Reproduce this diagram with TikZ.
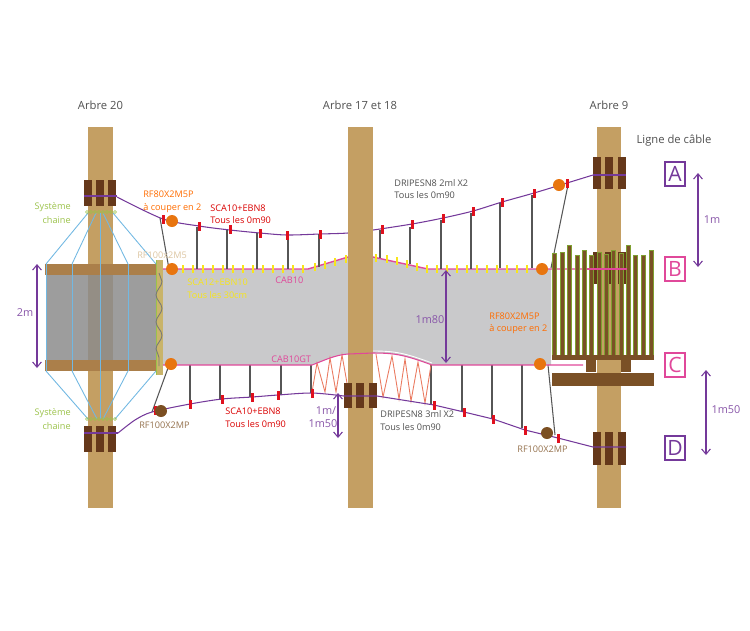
\documentclass[tikz,border=0pt]{standalone}
\usepackage{fontspec}
\setmainfont{Open Sans}
\usetikzlibrary{arrows.meta,decorations.pathmorphing}
\definecolor{treetan}{HTML}{C49F63}
\definecolor{clampbrown}{HTML}{65381A}
\definecolor{woodbrown}{HTML}{7A5026}
\definecolor{beamtan}{HTML}{AB7F4A}
\definecolor{netgray}{HTML}{C9C9CB}
\definecolor{cablepurple}{HTML}{74399A}
\definecolor{linepink}{HTML}{E0489A}
\definecolor{clipred}{HTML}{E0101E}
\definecolor{clipyellow}{HTML}{F7E51A}
\definecolor{ringorange}{HTML}{E8750F}
\definecolor{ringbrown}{HTML}{7B4F22}
\definecolor{chaingreen}{HTML}{9BC24A}
\definecolor{wireblue}{HTML}{72B8E2}
\definecolor{hangergray}{HTML}{565656}
\definecolor{textgray}{HTML}{505050}
\definecolor{zigred}{HTML}{EA7A60}
\definecolor{postyellow}{HTML}{C9B46A}
\definecolor{picketgreen}{HTML}{7FA030}
\begin{document}
\begin{tikzpicture}[
                    x=0.02cm, y=-0.02cm,
                    every node/.style={inner sep=0pt, font=\fontsize{5.2}{6}\selectfont},
                    tree/.style={fill=treetan},
                    clamp/.style={fill=clampbrown},
                    cable/.style={draw=cablepurple, line width=0.6pt},
                    hanger/.style={draw=hangergray, line width=0.6pt},
                    wire/.style={draw=wireblue, line width=0.5pt},
                    zigzag/.style={draw=zigred, line width=0.5pt},
                    pinkline/.style={draw=linepink, line width=0.8pt},
                    redclip/.style={fill=clipred, minimum width=0.06cm, minimum height=0.18cm},
                    yellowclip/.style={fill=clipyellow, minimum width=0.05cm, minimum height=0.15cm},
                    ring/.style={circle, fill=ringorange, minimum size=0.24cm},
                    brownring/.style={circle, fill=ringbrown, minimum size=0.24cm},
                    picket/.style={fill=woodbrown, draw=picketgreen, line width=0.5pt},
                    link/.style={circle, draw=chaingreen, line width=0.35pt, minimum size=0.06cm},
                    letterbox/.style={draw, line width=0.7pt, minimum width=0.4cm, minimum height=0.48cm, font=\fontsize{12}{14}\selectfont},
                    title/.style={text=textgray, font=\fontsize{6.4}{7}\selectfont},
                    dim/.style={cablepurple, line width=0.6pt, {Straight Barb[length=3pt,width=5pt]}-{Straight Barb[length=3pt,width=5pt]}},
                    dimtext/.style={text=cablepurple!85!white, font=\fontsize{6.2}{7}\selectfont},
                    orangetext/.style={text=orange!85!red, anchor=west},
                    redtext/.style={text=red!85!black, anchor=west},
                    graytext/.style={text=textgray, anchor=west},
                    browntext/.style={text=ringbrown!80!white, anchor=west},
                    greentext/.style={text=chaingreen, anchor=east},
                ]
\useasboundingbox (0,0) rectangle (750,630);
% trees
\fill[tree] (88,127) rectangle (113,508);
\fill[tree] (597,127) rectangle (621,508);
% left platform
\fill[black!45, opacity=0.85] (46,275) rectangle (157,360);
\fill[beamtan] (45,264) rectangle (157,275);
\fill[beamtan] (45,360) rectangle (157,371);
\foreach \a/\b in {88/46,96/72,100/100,103/128,113/156} {
    \draw[wire] (\a,213) -- (\b,264);
}
\foreach \a/\b in {88/46,97/72,100/100,103/128,115/156} {
    \draw[wire] (\b,371) -- (\a,419);
}
\foreach \b in {46,72,100,128,156} {
    \draw[wire] (\b,264) -- (\b,371);
}
% net
\fill[netgray] (163,269) -- (308,269) -- (348,257) -- (373,257) -- (428,269) -- (551,269)
    -- (551,365) -- (432,365) .. controls (405,355) and (395,353) .. (373,353)
    -- (348,354) .. controls (335,355) and (325,360) .. (312,365) -- (163,365) -- cycle;
\draw[pinkline] (163,269) -- (308,269) -- (348,257) -- (373,257) -- (428,269) -- (585,269);
% upper cable
\draw[cable] plot[smooth] coordinates {(117,197) (163,219) (199,226) (230,230) (260,233) (287,235) (320,234) (348,233) (373,230) (412,224) (443,218) (473,211) (502,202) (534,193) (567,183) (593,175)};
\foreach \a/\b/\c in {197/227/269,227/230/269,257/233/269,288/235/269,319/234/267,380/230/258,410/227/264,441/220/269,471/213/269,500/203/268} {
    \draw[hanger] (\a,\b) -- (\a,\c);
}
\draw[hanger] (532,195) -- (532,268);
\draw[hanger] (568,185) -- (551,268);
\draw[hanger] (160,218) -- (169,269);
\foreach \a/\b in {163/219,199/226,230/229,260/233,287/235,320/234,382/229,412/224,443/218,473/211,502/202,534/193,567/183} {
    \node[redclip] at (\a,\b) {};
}
\foreach \a in {183,193,...,304} {
    \node[yellowclip] at (\a,269) {};
}
\foreach \a/\b in {315/267,325/265,335/262,346/259,376/258,387/259,397/261,407/264,417/267} {
    \node[yellowclip] at (\a,\b) {};
}
\foreach \a in {427,437,...,530} {
    \node[yellowclip] at (\a,269) {};
}
% middle tree
\fill[tree] (348,127) rectangle (373,508);
% lower cable and its hangers
\foreach \a/\b in {190/404,220/400,250/397,281/395,311/393,431/404,462/412,492/418,522/428} {
    \draw[hanger] (\a,365) -- (\a,\b);
}
\draw[hanger] (168,368) -- (152,412);
\draw[hanger] (548,365) -- (555,435);
\draw[zigzag] (312,392) -- (317,363) -- (325,392) -- (330,358) -- (336,392) -- (342,355) -- (347,383);
\draw[zigzag] (376,354) -- (383,397) -- (392,356) -- (399,399) -- (405,359) -- (411,401) -- (418,362) -- (425,403) -- (431,365);
\draw[white, line width=0.5pt] (373,351) .. controls (395,351) and (405,353) .. (432,363);
\draw[pinkline, line width=0.6pt] (163,365) -- (312,365) .. controls (325,360) and (335,355) .. (348,354)
    -- (373,353) .. controls (395,353) and (405,355) .. (432,365) -- (583,365);
% clamps
\foreach \a/\b/\c in {84/180/206,96/180/206,108/180/206,84/426/452,96/426/452,108/426/452,344/383/408,356/383/408,369/383/408,593/157/189,605/157/189,618/157/189,593/252/284,605/252/284,618/252/284,593/432/465,605/432/465,618/432/465} {
    \fill[clamp] (\a,\b) rectangle (\a+8,\c);
}
\draw[cable] (84,196) -- (117,196);
\draw[cable] (593,175) -- (626,175);
\draw[cable] plot[smooth] coordinates {(118,433) (135,420) (152,412) (190,404) (222,399) (252,397) (278,395) (312,393) (344,396)};
\draw[cable] (84,433) -- (118,433);
\draw[cable] (344,396) -- (377,396) -- (434,405) -- (464,412) -- (493,419) -- (525,430) -- (558,438) -- (593,447) -- (626,447);
\foreach \a/\b in {155/410,190/404,222/399,252/397,278/395,312/393,434/405,464/412,493/419,525/430,558/438} {
    \node[redclip] at (\a,\b) {};
}
% chain links
\foreach \a in {87,91,...,116} {
    \node[link] at (\a,212) {};
    \node[link] at (\a,419) {};
}
% post with rope
\fill[postyellow] (156,260) rectangle (163,375);
\draw[chaingreen] (156,260) -- (156,375);
\draw[hangergray!80!white, line width=0.5pt, decorate, decoration={snake, amplitude=1.7pt, segment length=0.54cm}] (159,273) -- (159,366);
% right deck
\foreach \a/\b in {552/253,560/252,567/245,575/255,582/250,589/255,597/252,604/254,611/250,619/253,626/245,633/255,641/255,649/250} {
    \filldraw[picket] (\a,\b) rectangle (\a+4,355);
}
\draw[pinkline, line width=0.6pt] (587,269) -- (627,269);
\fill[woodbrown] (552,355) rectangle (654,360);
\fill[woodbrown] (586,360) rectangle (596,372);
\fill[woodbrown] (621,360) rectangle (631,372);
\fill[woodbrown] (552,373) rectangle (654,386);
% rings
\node[ring] (ringa) at (172,221) {};
\node[ring] (ringb) at (172,269) {};
\node[ring] (ringc) at (171,364) {};
\node[ring] (ringd) at (559,185) {};
\node[ring] (ringe) at (542,269) {};
\node[ring] (ringf) at (540,364) {};
\node[brownring] (ringg) at (161,411) {};
\node[brownring] (ringh) at (547,433) {};
% line letters
\node[letterbox, draw=cablepurple, text=cablepurple] (lettera) at (675,174) {A};
\node[letterbox, draw=linepink, text=linepink] (letterb) at (675,269) {B};
\node[letterbox, draw=linepink, text=linepink] (letterc) at (675,365) {C};
\node[letterbox, draw=cablepurple, text=cablepurple] (letterd) at (675,448) {D};
% sizes
\coordinate (dimatop) at (698,173);
\coordinate (dimabot) at (698,267);
\coordinate (dimctop) at (706,370);
\coordinate (dimcbot) at (706,455);
\coordinate (dimltop) at (37,264);
\coordinate (dimlbot) at (37,368);
\coordinate (dimmtop) at (446,270);
\coordinate (dimmbot) at (446,363);
\coordinate (dimstop) at (338,393);
\coordinate (dimsbot) at (338,438);
\draw[dim] (dimatop) -- (dimabot);
\draw[dim] (dimctop) -- (dimcbot);
\draw[dim] (dimltop) -- (dimlbot);
\draw[dim] (dimmtop) -- (dimmbot);
\draw[dim] (dimstop) -- (dimsbot);
\node[dimtext] (sizea) at (712,220) {1m};
\node[dimtext] (sizec) at (726,410) {1m50};
\node[dimtext] (sizel) at (25,313) {2m};
\node[dimtext] (sizem) at (430,320) {1m80};
\node[dimtext] (sizes) at (326,411) {1m/};
\node[dimtext] (sizet) at (323,424) {1m50};
% titles
\node[title] (titlea) at (100.5,105) {Arbre 20};
\node[title] (titleb) at (360,105) {Arbre 17 et 18};
\node[title] (titlec) at (609,105) {Arbre 9};
\node[title] (titled) at (674,141) {Ligne de câble};
% labels
\node[greentext] (syst) at (71,207) {Système};
\node[greentext] (chaint) at (71,220) {chaine};
\node[greentext] (sysb) at (71,413) {Système};
\node[greentext] (chainb) at (71,426) {chaine};
\node[orangetext] (rfa) at (143,194) {RF80X2M5P};
\node[orangetext] (rfb) at (143,208) {à couper en 2};
\node[redtext] (scaa) at (210,208) {SCA10+EBN8};
\node[redtext] (scab) at (210,220) {Tous les 0m90};
\node[anchor=west, text=treetan!60!white] (rfc) at (137,255) {RF100x2M5};
\node[anchor=west, text=clipyellow] (scac) at (187,282) {SCA12+EBN10};
\node[anchor=west, text=clipyellow] (scad) at (187,295) {Tous les 30cm};
\node[anchor=west, text=linepink] (caba) at (275,280) {CAB10};
\node[anchor=west, text=linepink] (cabb) at (271,359) {CAB10GT};
\node[graytext] (dripa) at (394,183) {DRIPESN8 2ml X2};
\node[graytext] (dripb) at (394,195) {Tous les 0m90};
\node[orangetext] (rfd) at (489,316) {RF80X2M5P};
\node[orangetext] (rfe) at (489,329) {à couper en 2};
\node[redtext] (scae) at (225,411) {SCA10+EBN8};
\node[redtext] (scaf) at (225,424) {Tous les 0m90};
\node[browntext] (rff) at (139,425) {RF100X2MP};
\node[graytext] (dripc) at (380,414) {DRIPESN8 3ml X2};
\node[graytext] (dripd) at (380,427) {Tous les 0m90};
\node[browntext] (rfg) at (517,449) {RF100X2MP};
\end{tikzpicture}
\end{document}
